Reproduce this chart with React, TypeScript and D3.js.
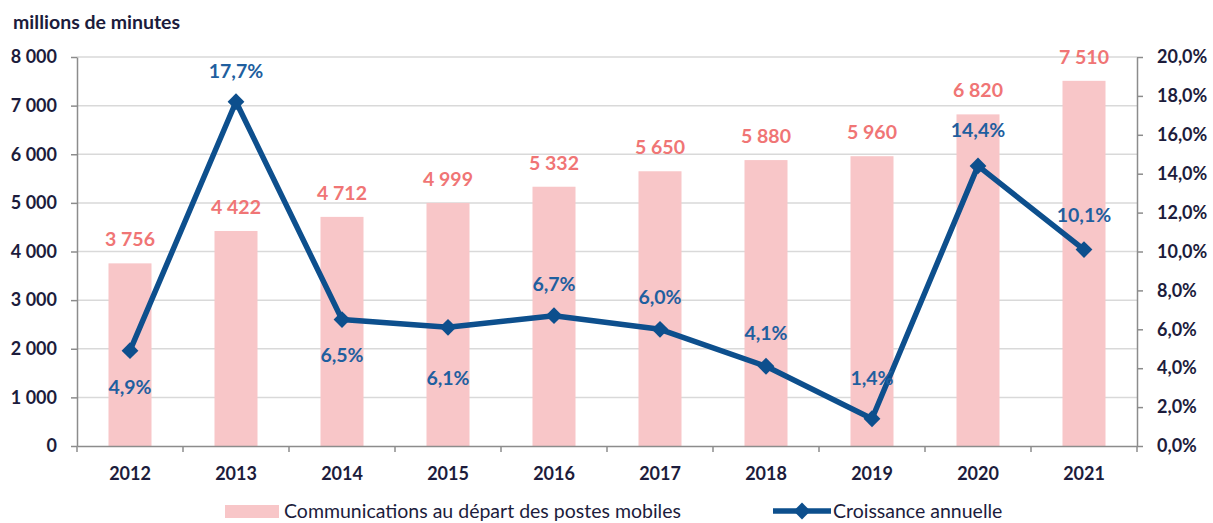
import React, { useEffect, useRef } from 'react';
import * as d3 from 'd3';

const years = ['2012', '2013', '2014', '2015', '2016', '2017', '2018', '2019', '2020', '2021'];
const minutes = [3756, 4422, 4712, 4999, 5332, 5650, 5880, 5960, 6820, 7510];
const growth = [4.9, 17.7, 6.5, 6.1, 6.7, 6.0, 4.1, 1.4, 14.4, 10.1];
// vertical offset of each growth label from its marker (baseline)
const growthLabelDy = [43, -24, 42, 58, -25, -25, -26, -34, -29, -28];
const leftTicks = [0, 1000, 2000, 3000, 4000, 5000, 6000, 7000, 8000];
const rightTicks = [0, 2, 4, 6, 8, 10, 12, 14, 16, 18, 20];

const FONT = 'Lato, "Open Sans", sans-serif';
const NAVY = '#1c1c3c';
const BAR = '#f8c6c8';
const BAR_LABEL = '#f07575';
const LINE = '#0d4f8d';
const LINE_LABEL = '#1f5f9f';

const fmtThousands = (v: number) => d3.format(',')(v).replace(/,/g, '\u00a0');
const fmtPct = (v: number) => v.toFixed(1).replace('.', ',') + '%';

const App: React.FC = () => {
  const svgRef = useRef<SVGSVGElement>(null);

  useEffect(() => {
    if (!svgRef.current) return;
    const svg = d3.select(svgRef.current);
    svg.selectAll('*').remove();

    const margin = { top: 57, right: 76, bottom: 77, left: 77 };
    const width = 1213;
    const height = 523;
    const innerW = width - margin.left - margin.right;
    const innerH = height - margin.top - margin.bottom;

    const x = d3.scaleBand().domain(years).range([0, innerW]).paddingInner(0).paddingOuter(0);
    const y = d3.scaleLinear().domain([0, 8000]).range([innerH, 0]);
    const y2 = d3.scaleLinear().domain([0, 20]).range([innerH, 0]);
    const barW = 43;

    const g = svg.append('g').attr('transform', `translate(${margin.left},${margin.top})`);

    // gridlines
    g.append('g')
      .selectAll('line')
      .data(leftTicks.filter(d => d > 0))
      .enter()
      .append('line')
      .attr('x1', 0)
      .attr('x2', innerW)
      .attr('y1', d => y(d))
      .attr('y2', d => y(d))
      .attr('stroke', '#d9d9d9')
      .attr('stroke-width', 1.5);

    // bars
    g.selectAll('rect.bar')
      .data(years)
      .enter()
      .append('rect')
      .attr('class', 'bar')
      .attr('x', (d) => (x(d) || 0) + x.bandwidth() / 2 - barW / 2)
      .attr('y', (_, i) => y(minutes[i]))
      .attr('width', barW)
      .attr('height', (_, i) => innerH - y(minutes[i]))
      .attr('fill', BAR);

    // bar labels
    g.selectAll('text.barlabel')
      .data(years)
      .enter()
      .append('text')
      .attr('x', d => (x(d) || 0) + x.bandwidth() / 2)
      .attr('y', (_, i) => y(minutes[i]) - 17)
      .attr('text-anchor', 'middle')
      .attr('fill', BAR_LABEL)
      .attr('font-family', FONT)
      .attr('font-weight', 'bold')
      .attr('font-size', '19.5px')
      .text((_, i) => fmtThousands(minutes[i]));

    // axes
    const axisStyle = (sel: d3.Selection<SVGGElement, unknown, null, undefined>) => {
      sel.select('.domain').attr('stroke', '#8c8c8c').attr('stroke-width', 1.5);
      sel.selectAll('.tick line').attr('stroke', '#8c8c8c').attr('stroke-width', 1.5);
      sel.selectAll('.tick text')
        .attr('fill', NAVY)
        .attr('font-family', FONT)
        .attr('font-weight', 'bold')
        .attr('font-size', '18px');
    };

    const left = g.append('g')
      .call(d3.axisLeft(y).tickValues(leftTicks).tickFormat(d => fmtThousands(d as number)).tickSize(6).tickSizeOuter(0).tickPadding(14));
    axisStyle(left);

    const right = g.append('g')
      .attr('transform', `translate(${innerW},0)`)
      .call(d3.axisRight(y2).tickValues(rightTicks).tickFormat(d => fmtPct(d as number)).tickSize(6).tickSizeOuter(0).tickPadding(14));
    axisStyle(right);

    const bottom = g.append('g')
      .attr('transform', `translate(0,${innerH})`)
      .call(d3.axisBottom(x).tickSize(0).tickPadding(21));
    axisStyle(bottom);
    // ticks between categories
    bottom.selectAll('line.sep')
      .data(d3.range(years.length + 1))
      .enter()
      .append('line')
      .attr('x1', i => i * x.step())
      .attr('x2', i => i * x.step())
      .attr('y1', 0)
      .attr('y2', 6)
      .attr('stroke', '#8c8c8c')
      .attr('stroke-width', 1.5);

    // growth line
    const cx = (i: number) => (x(years[i]) || 0) + x.bandwidth() / 2;
    const line = d3.line<number>().x((_, i) => cx(i)).y(d => y2(d));
    g.append('path')
      .datum(growth)
      .attr('d', line)
      .attr('fill', 'none')
      .attr('stroke', LINE)
      .attr('stroke-width', 5.5)
      .attr('stroke-linejoin', 'round');

    const diamond = d3.symbol().type(d3.symbolDiamond2).size(180);
    g.selectAll('path.marker')
      .data(growth)
      .enter()
      .append('path')
      .attr('d', diamond)
      .attr('transform', (d, i) => `translate(${cx(i)},${y2(d)})`)
      .attr('fill', LINE);

    g.selectAll('text.growth')
      .data(growth)
      .enter()
      .append('text')
      .attr('x', (_, i) => cx(i))
      .attr('y', (d, i) => y2(d) + growthLabelDy[i])
      .attr('text-anchor', 'middle')
      .attr('fill', LINE_LABEL)
      .attr('font-family', FONT)
      .attr('font-weight', 'bold')
      .attr('font-size', '19.5px')
      .text(d => fmtPct(d));

    // unit title
    svg.append('text')
      .attr('x', 13)
      .attr('y', 29)
      .attr('fill', NAVY)
      .attr('font-family', FONT)
      .attr('font-weight', 'bold')
      .attr('font-size', '19.5px')
      .text('millions de minutes');

    // legend
    const lg = svg.append('g').attr('font-family', FONT).attr('font-size', '19.5px').attr('fill', NAVY);
    lg.append('rect').attr('x', 225).attr('y', 505).attr('width', 54).attr('height', 13).attr('fill', BAR);
    lg.append('text').attr('x', 284).attr('y', 518).text('Communications au départ des postes mobiles');
    lg.append('line').attr('x1', 773).attr('x2', 831).attr('y1', 511).attr('y2', 511)
      .attr('stroke', LINE).attr('stroke-width', 5.5);
    lg.append('path').attr('d', diamond).attr('transform', 'translate(802,511)').attr('fill', LINE);
    lg.append('text').attr('x', 833).attr('y', 518).text('Croissance annuelle');
  }, []);

  return (
    <svg
      ref={svgRef}
      width={1213}
      height={523}
      style={{ display: 'block', position: 'absolute', top: 0, left: 0 }}
    />
  );
};

export default App;
